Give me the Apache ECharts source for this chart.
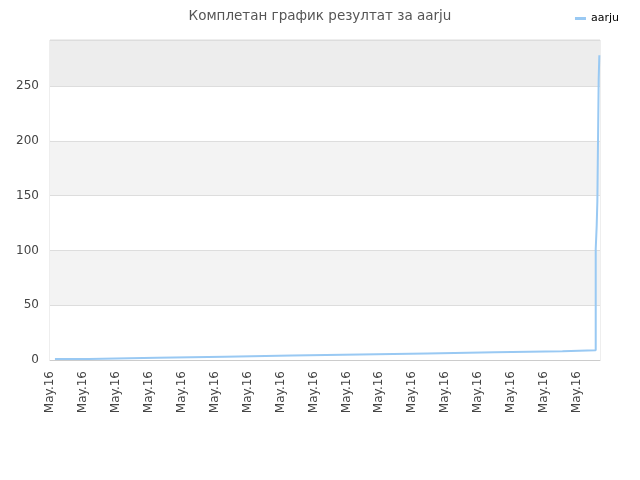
<!DOCTYPE html>
<html>
<head>
<meta charset="utf-8">
<script src="https://cdn.jsdelivr.net/npm/echarts@6/dist/echarts.min.js"></script>
<style>
  html, body { margin: 0; padding: 0; background: #fff; }
  #chart { width: 640px; height: 480px; }
</style>
</head>
<body>
<div id="chart"></div>
<script>
// step points (x in label-steps, 10 units per "May.16" label)
var xs = [1.5, 11.8, 32.5, 53.1, 73.5, 94.1, 114.5, 135.1, 155.6, 165.7, 166.0, 166.2, 166.6, 166.8];
var ys = [1, 2, 3, 4, 5, 6, 7, 8, 9, 101, 123, 145, 256, 278];
var tickLabel = "May.16";
var seriesName = "aarju";
var titleText = "Комплетан график резултат за aarju";

var chart = echarts.init(document.getElementById("chart"));

// hold each value until the next x, then jump (step after)
var points = [];
xs.forEach(function (x, i) {
    if (i > 0) points.push([x, ys[i - 1]]);
    points.push([x, ys[i]]);
});

chart.setOption({
    animation: false,
    textStyle: { fontFamily: "DejaVu Sans" },
    title: {
        text: titleText,
        left: "center",
        top: 4,
        textStyle: { fontSize: 13.5, fontWeight: "normal", color: "#555", fontFamily: "DejaVu Sans" }
    },
    legend: {
        right: 16,
        top: 8,
        itemWidth: 11,
        itemHeight: 3,
        itemGap: 10,
        icon: "rect",
        textStyle: { fontSize: 11, color: "#000" },
        data: [seriesName]
    },
    grid: {
        left: 50,
        right: 40,
        top: 40,
        bottom: 120,
        show: true,
        borderColor: "#ddd",
        borderWidth: 1
    },
    xAxis: {
        type: "value",
        min: 0,
        max: 167,
        interval: 10,
        axisLine: { lineStyle: { color: "#ccc" } },
        axisTick: { show: false },
        splitLine: { show: false },
        axisLabel: {
            rotate: 90,
            fontSize: 12,
            color: "#444",
            margin: 11,
            showMaxLabel: false,
            formatter: function () { return tickLabel; }
        }
    },
    yAxis: {
        type: "value",
        min: 0,
        max: 292,
        interval: 50,
        axisLine: { show: false },
        axisTick: { show: false },
        axisLabel: { fontSize: 12, color: "#444", margin: 11, showMaxLabel: false },
        splitLine: { lineStyle: { color: "#ddd" } },
        splitArea: {
            show: true,
            areaStyle: { color: ["#ffffff", "#f3f3f3", "#ffffff", "#f3f3f3", "#ffffff", "#ededed"] }
        }
    },
    series: [
        {
            name: seriesName,
            type: "line",
            showSymbol: false,
            data: points,
            itemStyle: { color: "#99c9f3" },
            lineStyle: { color: "#99c9f3", width: 2 }
        }
    ]
});
</script>
</body>
</html>
